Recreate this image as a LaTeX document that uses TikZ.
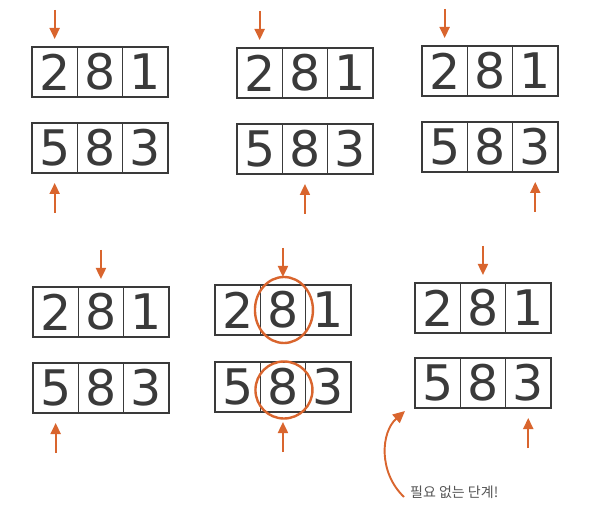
\documentclass[tikz,border=0pt]{standalone}
\usepackage{fontspec}
\setmainfont{DejaVu Sans}
\newfontfamily\krfont{Noto Sans CJK KR}
\usetikzlibrary{arrows.meta,shapes.geometric}
\definecolor{orng}{HTML}{D9652E}
\definecolor{dgray}{HTML}{3A3A3A}
\definecolor{ngray}{HTML}{555555}
\tikzset{
  cell/.style={draw=dgray, line width=1.4pt, minimum width=45.3pt, minimum height=50pt,
    inner sep=0pt, outer sep=0pt, text=dgray, font=\fontsize{49}{49}\selectfont},
  arr/.style={draw=orng, line width=1.9pt, -{Triangle[width=10pt,length=11pt]}},
  ring/.style={draw=orng, line width=2.4pt, ellipse, inner sep=0pt},
}
\newcommand\mkpanel[6]{%
  \node[cell, anchor=north west] (#1t1) at (#2,#3) {2};
  \node[cell, anchor=west] (#1t2) at (#1t1.east) {8};
  \node[cell, anchor=west] (#1t3) at (#1t2.east) {1};
  \node[cell, anchor=north west] (#1b1) at (#2,#4) {5};
  \node[cell, anchor=west] (#1b2) at (#1b1.east) {8};
  \node[cell, anchor=west] (#1b3) at (#1b2.east) {3};
  \coordinate (#1ta) at ([yshift=37pt]#1t#5.north);
  \coordinate (#1ba) at ([yshift=-40pt]#1b#6.south);
  \draw[arr, shorten >=8pt] (#1ta) -- (#1t#5);
  \draw[arr, shorten >=10pt] (#1ba) -- (#1b#6);
}
\begin{document}
\begin{tikzpicture}[x=1pt,y=-1pt]
\useasboundingbox[fill=white] (0,0) rectangle (590,524);
\mkpanel{p}{32}{47}{123}{1}{1}
\mkpanel{q}{237}{48}{124}{1}{2}
\mkpanel{r}{422}{46}{122}{1}{3}
\mkpanel{s}{33}{287}{363}{2}{1}
\mkpanel{u}{215}{285}{362}{2}{2}
\mkpanel{v}{415}{283}{358}{2}{3}
\node[ring, minimum width=58pt, minimum height=66pt] (e1) at ([xshift=1pt]ut2.center) {};
\node[ring, minimum width=57pt, minimum height=57pt] (e2) at ([xshift=1pt,yshift=-3pt]ub2.center) {};
\coordinate (cs) at (404,497);
\coordinate (ce) at (405,411);
\draw[draw=orng, line width=1.9pt, -{Triangle[width=11pt,length=12pt]}] (cs) .. controls (378,472) and (381,432) .. (ce);
\node[anchor=west, inner sep=0pt, text=ngray, font=\krfont\fontsize{14}{14}\selectfont] (note) at (410,492) {필요 없는 단계!};
\end{tikzpicture}
\end{document}
